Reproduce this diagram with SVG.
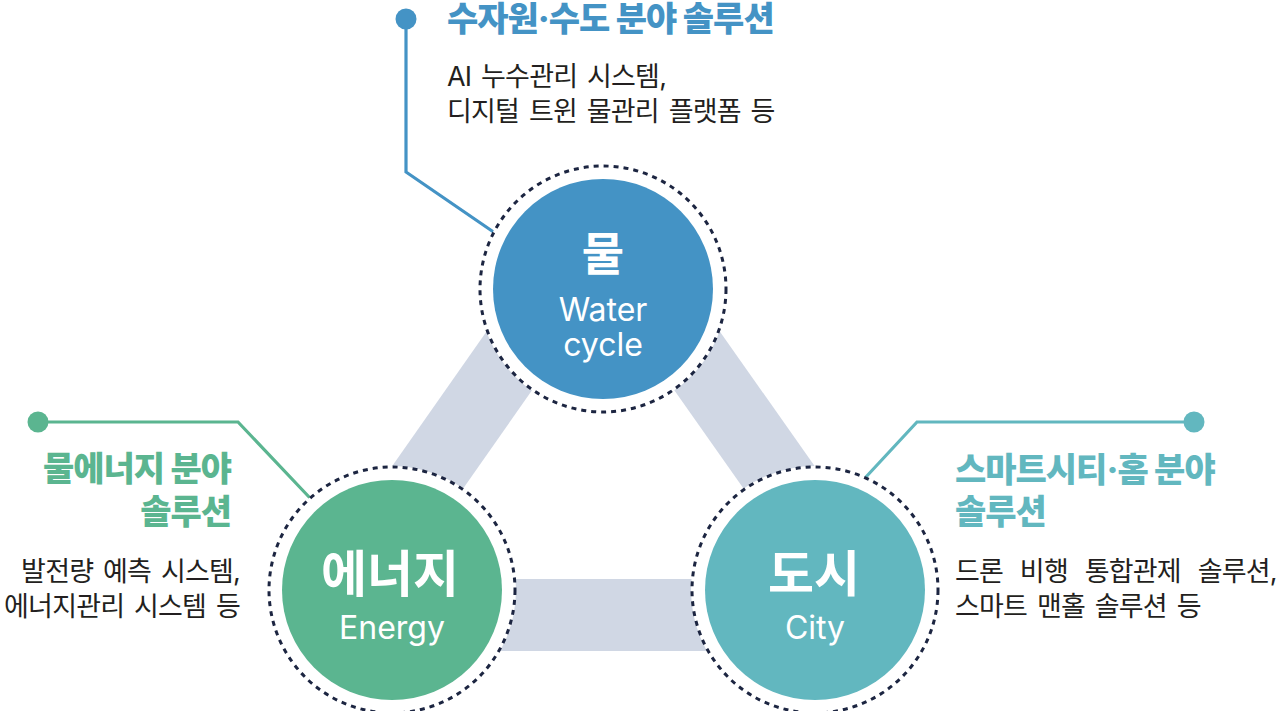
<svg xmlns="http://www.w3.org/2000/svg" width="1280" height="711" viewBox="0 0 1280 711">
<style>
text{font-family:Inter,"Noto Sans CJK KR",sans-serif}
.band{fill:#d0d7e4}
.halo{fill:#fff}
.ring{fill:none;stroke:#1c2541;stroke-width:3;stroke-dasharray:5 5}
.lead{fill:none;stroke-width:3.2}
.ttl{font-weight:800;font-size:34px;letter-spacing:-1px}
.body{font-size:27px;fill:#231f20;letter-spacing:-0.8px;word-spacing:3px}
.ko{font-weight:700;fill:#fff;text-anchor:middle}
.en{font-size:32px;fill:#fff;text-anchor:middle}
.water{fill:#4493c5}
.energy{fill:#5bb590}
.city{fill:#62b7bf}
</style>
<rect width="1280" height="711" fill="#fff"/>
<g id="connectors">
<polygon class="band" points="603,289 392,590 333.9,549.2 544.9,248.2"/>
<polygon class="band" points="603,289 815,590 873.1,549.1 661.1,248.1"/>
<rect class="band" x="392" y="579" width="423" height="72"/>
</g>
<g id="node-water">
<polyline class="lead" stroke="#4493c5" points="406,19 406,172 495,233"/>
<circle class="water" cx="406" cy="19" r="10.5"/>
<circle class="halo" cx="603" cy="289" r="124"/>
<circle class="ring" cx="603" cy="289" r="123"/>
<circle class="water" cx="603" cy="289" r="110"/>
<text class="ko" x="603" y="270" font-size="46">물</text>
<text class="en" x="603" y="321">Water</text>
<text class="en" x="603" y="356">cycle</text>
<text class="ttl water" x="447" y="31">수자원·수도 분야 솔루션</text>
<text class="body" x="447" y="86">AI 누수관리 시스템,</text>
<text class="body" x="447" y="121">디지털 트윈 물관리 플랫폼 등</text>
</g>
<g id="node-energy">
<polyline class="lead" stroke="#5bb590" points="38,422 238,422 310,498"/>
<circle class="energy" cx="38" cy="422" r="10.5"/>
<circle class="halo" cx="392" cy="590" r="124"/>
<circle class="ring" cx="392" cy="590" r="123"/>
<circle class="energy" cx="392" cy="590" r="110"/>
<text class="ko" x="390" y="592" font-size="50">에너지</text>
<text class="en" x="392" y="639">Energy</text>
<text class="ttl energy" x="231" y="481" text-anchor="end">물에너지 분야</text>
<text class="ttl energy" x="231" y="524" text-anchor="end">솔루션</text>
<text class="body" x="240" y="581" text-anchor="end">발전량 예측 시스템,</text>
<text class="body" x="240" y="616" text-anchor="end">에너지관리 시스템 등</text>
</g>
<g id="node-city">
<polyline class="lead" stroke="#62b7bf" points="1194,422 917,422 865,478"/>
<circle class="city" cx="1194" cy="422" r="10.5"/>
<circle class="halo" cx="815" cy="590" r="124"/>
<circle class="ring" cx="815" cy="590" r="123"/>
<circle class="city" cx="815" cy="590" r="110"/>
<text class="ko" x="814" y="592" font-size="50">도시</text>
<text class="en" x="815" y="639">City</text>
<text class="ttl city" x="955" y="482">스마트시티·홈 분야</text>
<text class="ttl city" x="955" y="524">솔루션</text>
<text class="body" x="955" y="581" style="word-spacing:10px">드론 비행 통합관제 솔루션,</text>
<text class="body" x="955" y="616">스마트 맨홀 솔루션 등</text>
</g>
</svg>
